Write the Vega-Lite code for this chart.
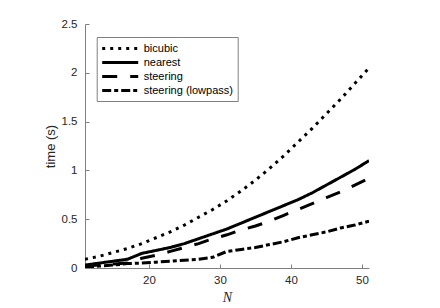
{
  "$schema": "https://vega.github.io/schema/vega-lite/v6.json",
  "autosize": {"type": "none"},
  "width": 284,
  "height": 244,
  "padding": {"left": 85, "top": 24, "right": 71, "bottom": 40},
  "background": "white",
  "config": {
    "view": {"stroke": null},
    "font": "Liberation Sans"
  },
  "data": {"values": [
    {"N": 11, "method": "bicubic", "t": 0.09}, {"N": 13, "method": "bicubic", "t": 0.12}, {"N": 15, "method": "bicubic", "t": 0.16}, {"N": 17, "method": "bicubic", "t": 0.20}, {"N": 19, "method": "bicubic", "t": 0.25}, {"N": 21, "method": "bicubic", "t": 0.31}, {"N": 23, "method": "bicubic", "t": 0.37}, {"N": 25, "method": "bicubic", "t": 0.44}, {"N": 27, "method": "bicubic", "t": 0.52}, {"N": 29, "method": "bicubic", "t": 0.60}, {"N": 31, "method": "bicubic", "t": 0.69}, {"N": 33, "method": "bicubic", "t": 0.79}, {"N": 35, "method": "bicubic", "t": 0.90}, {"N": 37, "method": "bicubic", "t": 1.02}, {"N": 39, "method": "bicubic", "t": 1.15}, {"N": 41, "method": "bicubic", "t": 1.29}, {"N": 43, "method": "bicubic", "t": 1.43}, {"N": 45, "method": "bicubic", "t": 1.58}, {"N": 47, "method": "bicubic", "t": 1.73}, {"N": 49, "method": "bicubic", "t": 1.89}, {"N": 51, "method": "bicubic", "t": 2.05},
    {"N": 11, "method": "nearest", "t": 0.03}, {"N": 13, "method": "nearest", "t": 0.05}, {"N": 15, "method": "nearest", "t": 0.07}, {"N": 17, "method": "nearest", "t": 0.09}, {"N": 19, "method": "nearest", "t": 0.15}, {"N": 21, "method": "nearest", "t": 0.18}, {"N": 23, "method": "nearest", "t": 0.21}, {"N": 25, "method": "nearest", "t": 0.25}, {"N": 27, "method": "nearest", "t": 0.30}, {"N": 29, "method": "nearest", "t": 0.35}, {"N": 31, "method": "nearest", "t": 0.40}, {"N": 33, "method": "nearest", "t": 0.46}, {"N": 35, "method": "nearest", "t": 0.52}, {"N": 37, "method": "nearest", "t": 0.58}, {"N": 39, "method": "nearest", "t": 0.64}, {"N": 41, "method": "nearest", "t": 0.70}, {"N": 43, "method": "nearest", "t": 0.77}, {"N": 45, "method": "nearest", "t": 0.85}, {"N": 47, "method": "nearest", "t": 0.93}, {"N": 49, "method": "nearest", "t": 1.01}, {"N": 51, "method": "nearest", "t": 1.10},
    {"N": 11, "method": "steering", "t": 0.02}, {"N": 13, "method": "steering", "t": 0.03}, {"N": 15, "method": "steering", "t": 0.04}, {"N": 17, "method": "steering", "t": 0.05}, {"N": 19, "method": "steering", "t": 0.10}, {"N": 21, "method": "steering", "t": 0.13}, {"N": 23, "method": "steering", "t": 0.17}, {"N": 25, "method": "steering", "t": 0.21}, {"N": 27, "method": "steering", "t": 0.25}, {"N": 29, "method": "steering", "t": 0.30}, {"N": 31, "method": "steering", "t": 0.34}, {"N": 33, "method": "steering", "t": 0.39}, {"N": 35, "method": "steering", "t": 0.43}, {"N": 37, "method": "steering", "t": 0.48}, {"N": 39, "method": "steering", "t": 0.54}, {"N": 41, "method": "steering", "t": 0.60}, {"N": 43, "method": "steering", "t": 0.66}, {"N": 45, "method": "steering", "t": 0.72}, {"N": 47, "method": "steering", "t": 0.78}, {"N": 49, "method": "steering", "t": 0.85}, {"N": 51, "method": "steering", "t": 0.92},
    {"N": 11, "method": "steering (lowpass)", "t": 0.01}, {"N": 13, "method": "steering (lowpass)", "t": 0.02}, {"N": 15, "method": "steering (lowpass)", "t": 0.03}, {"N": 17, "method": "steering (lowpass)", "t": 0.045}, {"N": 19, "method": "steering (lowpass)", "t": 0.05}, {"N": 21, "method": "steering (lowpass)", "t": 0.06}, {"N": 23, "method": "steering (lowpass)", "t": 0.07}, {"N": 25, "method": "steering (lowpass)", "t": 0.08}, {"N": 27, "method": "steering (lowpass)", "t": 0.09}, {"N": 29, "method": "steering (lowpass)", "t": 0.11}, {"N": 31, "method": "steering (lowpass)", "t": 0.17}, {"N": 33, "method": "steering (lowpass)", "t": 0.19}, {"N": 35, "method": "steering (lowpass)", "t": 0.21}, {"N": 37, "method": "steering (lowpass)", "t": 0.24}, {"N": 39, "method": "steering (lowpass)", "t": 0.27}, {"N": 41, "method": "steering (lowpass)", "t": 0.31}, {"N": 43, "method": "steering (lowpass)", "t": 0.34}, {"N": 45, "method": "steering (lowpass)", "t": 0.37}, {"N": 47, "method": "steering (lowpass)", "t": 0.41}, {"N": 49, "method": "steering (lowpass)", "t": 0.44}, {"N": 51, "method": "steering (lowpass)", "t": 0.48}
  ]},
  "mark": {"type": "line", "color": "black", "strokeWidth": 3, "strokeCap": "butt", "clip": true},
  "encoding": {
    "x": {
      "field": "N", "type": "quantitative",
      "scale": {"domain": [11, 51], "nice": false, "zero": false},
      "axis": {
        "values": [20, 30, 40, 50], "grid": false, "domainColor": "#808080", "domainWidth": 1,
        "tickColor": "#808080", "tickSize": -4, "labelPadding": 10, "labelFontSize": 11.5, "labelColor": "#262626",
        "title": "N", "titleFont": "Liberation Serif", "titleFontStyle": "italic", "titleFontWeight": "normal", "titleFontSize": 14,
        "titleColor": "#262626", "titleX": 142, "titleY": 29, "titleBaseline": "middle", "titleAlign": "center"
      }
    },
    "y": {
      "field": "t", "type": "quantitative",
      "scale": {"domain": [0, 2.5], "nice": false},
      "axis": {
        "values": [0, 0.5, 1, 1.5, 2, 2.5], "format": "~g", "grid": false, "domainColor": "#808080", "domainWidth": 1,
        "tickColor": "#808080", "tickSize": -4, "labelPadding": 12, "labelFontSize": 11.5, "labelColor": "#262626",
        "title": "time (s)", "titleFontWeight": "normal", "titleFontSize": 13, "titleColor": "#262626",
        "titleX": -34.5, "titleY": 122, "titleAngle": -90, "titleBaseline": "middle", "titleAlign": "center"
      }
    },
    "strokeDash": {
      "field": "method", "type": "nominal",
      "scale": {
        "domain": ["bicubic", "nearest", "steering", "steering (lowpass)"],
        "range": [[3, 5], [1, 0], [15, 13], [9, 3, 4, 3]]
      },
      "legend": {
        "title": null, "orient": "none", "legendX": 11.7, "legendY": 13,
        "strokeColor": "#808080", "fillColor": "white", "padding": 4,
        "symbolType": "M-1,0H5", "symbolSize": 144, "symbolStrokeWidth": 3, "symbolStrokeColor": "black",
        "labelFontSize": 11, "labelColor": "black", "labelOffset": 28, "rowPadding": 0
      }
    }
  }
}
